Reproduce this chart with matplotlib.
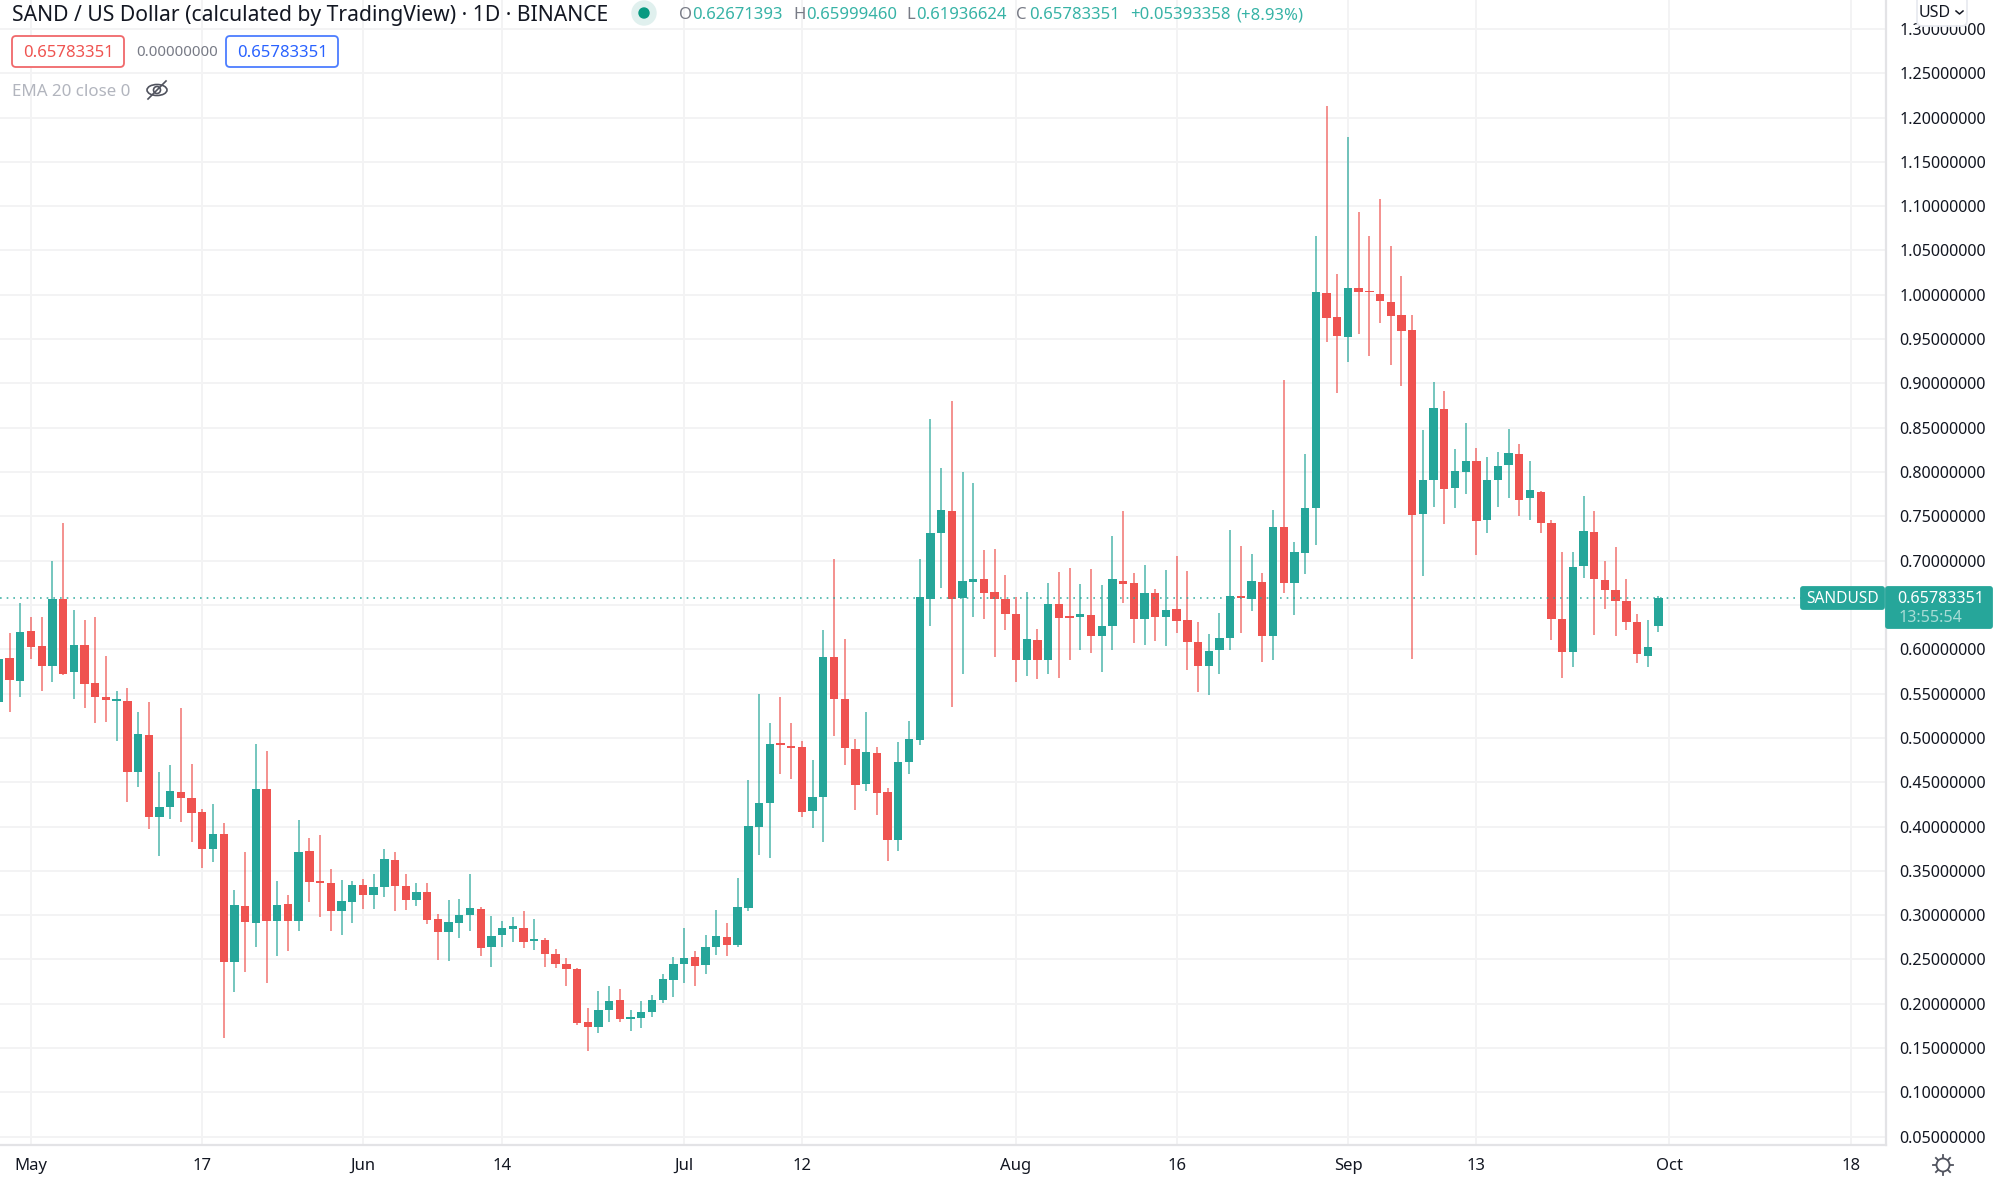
import matplotlib
matplotlib.use('Agg')
import matplotlib.pyplot as plt
import matplotlib.dates as mdates
from matplotlib.lines import Line2D
from matplotlib.patches import Circle, Ellipse, FancyBboxPatch
from matplotlib.transforms import IdentityTransform
import numpy as np
import pandas as pd

dates = pd.date_range('2021-04-28', '2021-09-30', freq='D')

opens = [.5405, .590, .564, .621, .604, .5808, .6565, .574, .6054, .5615, .5458, .5421, .5421, .4612, .5031, .4109,
         .4218, .4395, .4326, .4161, .3751, .392, .247, .3102, .2913, .4427, .2929, .3127, .2933, .3722, .3388, .3364,
         .3049, .3154, .3338, .3233, .3319, .3628, .333, .3169, .3259, .2955, .2815, .291, .3003, .3075, .2639, .2774,
         .2842, .2857, .2706, .2718, .256, .2451, .2391, .1793, .1736, .1928, .2041, .183, .1838, .1909, .2045, .2266,
         .2454, .253, .2443, .2646, .2755, .2668, .3086, .3999, .4263, .494, .4909, .4898, .4176, .4334, .5909, .5439,
         .4879, .4477, .4834, .4394, .3849, .4729, .4973, .6567, .7312, .756, .6575, .6755, .6797, .6642, .6567, .6398,
         .5879, .6105, .5883, .6507, .6368, .6360, .6391, .6146, .6263, .6770, .6748, .6345, .6635, .6364, .6451, .6327,
         .6086, .5815, .5988, .6124, .6601, .6571, .6763, .6147, .7375, .675, .7082, .7591, 1.0017, .9745, .9521, 1.0073,
         1.0043, 1.0008, .9922, .9776, .9599, .753, .7909, .8715, .7819, .8004, .8125, .7455, .791, .8079, .8199, .7707,
         .7771, .7425, .6342, .5966, .694, .7327, .6778, .6669, .6549, .6304, .5925, .6267]
highs = [.61, .618, .652, .637, .637, .6996, .743, .6448, .6327, .6368, .593, .553, .5562, .5293, .5401, .4612,
         .4689, .5337, .4701, .4193, .425, .404, .328, .3714, .4934, .4854, .3388, .3231, .4073, .3876, .3904, .3521,
         .3394, .3383, .341, .347, .3748, .3714, .347, .3364, .3364, .3015, .3173, .3188, .347, .3097, .2988, .2936,
         .2985, .3045, .2955, .2744, .2624, .2515, .2402, .195, .2142, .2203, .2169, .1928, .203, .2097, .2338, .2533,
         .2857, .2601, .2774, .306, .2909, .342, .4526, .5496, .5172, .5458, .5172, .4962, .4751, .6222, .7019, .612,
         .4985, .5297, .4898, .4436, .495, .5195, .7019, .8594, .8049, .8804, .8, .7879, .7116, .7131, .6842, .6594,
         .6646, .6225, .6748, .6868, .6921, .6733, .691, .6725, .7282, .756, .6860, .6955, .668, .6898, .7049, .6883,
         .6312, .6172, .6413, .7342, .7165, .7071, .6858, .7569, .9034, .7211, .8198, 1.0668, 1.2125, 1.0237, 1.178, 1.0935,
         1.0659, 1.1077, 1.0547, 1.0211, .9767, .847, .9013, .8914, .8258, .8556, .8271, .8173, .8230, .8489, .8312, .812,
         .7782, .7455, .7102, .7102, .7726, .756, .70, .7150, .6797, .6398, .6335, .65999]
lows = [.53, .529, .546, .589, .5534, .5627, .5707, .544, .534, .5168, .5176, .497, .4274, .445, .3968, .367,
        .4089, .4053, .3823, .3537, .3602, .1613, .2128, .2358, .2639, .2233, .2535, .2599, .2825, .3147, .2982, .2825,
        .2778, .291, .3067, .3067, .3203, .3045, .306, .3101, .2906, .2496, .2485, .2748, .2819, .2541, .2417, .2639,
        .2695, .2627, .2605, .2417, .2409, .2199, .1766, .1466, .1672, .1793, .1793, .1691, .1725, .1849, .2011, .2078,
        .2233, .2203, .2338, .2552, .2541, .2638, .3048, .3684, .365, .4593, .4533, .4112, .3988, .3823, .5026, .4691,
        .4191, .4398, .4135, .3616, .3729, .4597, .4917, .6259, .6691, .5353, .5721, .6368, .6338, .5909, .6221, .5627,
        .5699, .5661, .5721, .5672, .5879, .5988, .5958, .5748, .5996, .6522, .6067, .6048, .6094, .6037, .6184, .577,
        .5518, .5488, .5721, .5996, .6188, .6432, .5854, .5875, .6638, .6384, .6845, .7181, .9465, .8892, .9237, .956,
        .931, .9677, .9207, .897, .5888, .6823, .7608, .7409, .7590, .775, .7060, .7312, .7609, .7707, .75, .7459,
        .7316, .6101, .5673, .5801, .6801, .6165, .6455, .6154, .6222, .5846, .5801, .61936]
closes = [.589, .5655, .620, .6025, .5816, .657, .572, .6054, .5607, .5458, .5433, .5442, .4616, .5039, .4105, .4226,
          .4403, .4318, .4157, .3751, .392, .247, .3119, .2925, .4427, .2929, .3119, .2929, .3714, .3372, .3368, .305,
          .3161, .3342, .3233, .3319, .3635, .3334, .3169, .3259, .2951, .2808, .2921, .30, .3079, .2627, .277, .2857,
          .2879, .2699, .2718, .2567, .2454, .2391, .1778, .1736, .1928, .203, .183, .1849, .1902, .2041, .2278, .2451,
          .2522, .2432, .2642, .2767, .2669, .3097, .4007, .4263, .4936, .4917, .4887, .4169, .4334, .5913, .5436, .4883,
          .4473, .4845, .4375, .3849, .4725, .4985, .6586, .7312, .7571, .6567, .6767, .6797, .6631, .6567, .6394, .5883,
          .6116, .5883, .6515, .6353, .6353, .6402, .615, .6263, .6797, .674, .6345, .6631, .6364, .6439, .6323, .6082,
          .5815, .5984, .6127, .6601, .6579, .6767, .6147, .7375, .6750, .7099, .7595, 1.0034, .9733, .9539, 1.0073, 1.003,
          1.0026, .9935, .9763, .9595, .7513, .7909, .8724, .7810, .8009, .8125, .7453, .7914, .8072, .8218, .7688, .7801,
          .7425, .6342, .597, .6932, .7338, .6793, .6665, .6545, .6312, .5947, .603, .65783]

price_ticks = [round(0.05 * i, 2) for i in range(1, 27)]
time_ticks = ['2021-05-01', '2021-05-17', '2021-06-01', '2021-06-14', '2021-07-01', '2021-07-12',
              '2021-08-01', '2021-08-16', '2021-09-01', '2021-09-13', '2021-10-01', '2021-10-18']
time_labels = ['May', '17', 'Jun', '14', 'Jul', '12', 'Aug', '16', 'Sep', '13', 'Oct', '18']
last_price = 0.65783351

GREEN = '#26a69a'
RED = '#ef5350'
TEXT = '#131722'
GRID = '#f3f3f4'
BORDER = '#e3e3e6'
W, H = 1999, 1181

plt.rcParams['font.family'] = ['Noto Sans', 'DejaVu Sans']
fig = plt.figure(figsize=(W / 100, H / 100), dpi=100, facecolor='white')
ax = fig.add_axes([0, (H - 1145) / H, 1885.7 / W, 1145 / H])

x = mdates.date2num(dates)
may1 = mdates.date2num(pd.Timestamp('2021-05-01'))
ax.set_xlim(may1 - 31 / 10.707, may1 + (1885.7 - 31) / 10.707)
ax.set_ylim(0.0407, 1.3326)

o, h, l, c = map(np.array, (opens, highs, lows, closes))
colors = np.where(c >= o, GREEN, RED)
ax.vlines(x, l, h, colors=colors, linewidth=1.2, alpha=0.75, zorder=3)
ax.bar(x, np.maximum(np.abs(c - o), 0.0022), bottom=np.minimum(o, c), width=0.78, color=colors, zorder=4)
ax.axhline(last_price, color=GREEN, linewidth=1.2, linestyle=(0, (1, 3)), alpha=0.85, zorder=5)

ax.set_yticks(price_ticks)
# the 0.65 label sits under the last price tag, as in the platform
ax.set_yticklabels(['' if p == 0.65 else '%.8f' % p for p in price_ticks])
ax.yaxis.tick_right()
ax.set_xticks(mdates.date2num(pd.to_datetime(time_ticks)))
ax.set_xticklabels(time_labels)
ax.tick_params(axis='y', length=0, pad=10, labelsize=11.6, labelcolor=TEXT)
ax.tick_params(axis='x', length=0, pad=9, labelsize=12, labelcolor=TEXT)
for lab, txt in zip(ax.get_xticklabels(), time_labels):
    if not txt.isdigit():
        lab.set_fontweight('semibold')
ax.grid(True, color=GRID, linewidth=1.4, zorder=0)
ax.set_axisbelow(True)
for side in ['top', 'left']:
    ax.spines[side].set_visible(False)
for side in ['right', 'bottom']:
    ax.spines[side].set_color(BORDER)
    ax.spines[side].set_linewidth(1.6)


# everything around the chart is placed in reference pixels
def label(px, py, s, color=TEXT, size=12, ha='left', **kw):
    fig.text(px / W, 1 - py / H, s, color=color, fontsize=size, ha=ha, va='center', zorder=20, **kw)


def box(x0, y0, x1, y1, face, edge, r=3, **kw):
    fig.add_artist(FancyBboxPatch((x0, H - y1), x1 - x0, y1 - y0, boxstyle='round,pad=0,rounding_size=%d' % r,
                                  facecolor=face, edgecolor=edge, linewidth=1.3,
                                  transform=IdentityTransform(), zorder=15, **kw))


label(12, 15, 'SAND / US Dollar (calculated by TradingView) · 1D · BINANCE', size=15.2)
fig.add_artist(Circle((644, H - 13), 12, color='#e0f0ee', transform=IdentityTransform(), zorder=15))
fig.add_artist(Circle((644, H - 13), 5, color='#089981', transform=IdentityTransform(), zorder=16))

OHLC = '#37b3a6'
for px, s, col in [(679, 'O', '#787b86'), (692, '0.62671393', OHLC), (793, 'H', '#787b86'), (806, '0.65999460', OHLC),
                   (906, 'L', '#787b86'), (916, '0.61936624', OHLC), (1016, 'C', '#787b86'), (1029, '0.65783351', OHLC),
                   (1130, '+0.05393358', OHLC), (1236, '(+8.93%)', OHLC)]:
    label(px, 15, s, color=col, size=12)

box(12, 36, 124, 67, 'white', '#f0686a', r=4)
label(68, 53, '0.65783351', color=RED, size=12, ha='center')
label(136, 53, '0.00000000', color='#787b86', size=10.8)
box(226, 36, 338, 67, 'white', '#4c7dff', r=4)
label(282, 53, '0.65783351', color='#2962ff', size=12, ha='center')
label(12, 92, 'EMA 20 close 0', color='#b2b5be', size=12.2)

# crossed out eye
fig.add_artist(Ellipse((157, H - 90), 20, 11, fill=False, edgecolor='#50535e', linewidth=1.2,
                       transform=IdentityTransform(), zorder=16))
fig.add_artist(Circle((157, H - 90), 3.5, fill=False, edgecolor='#50535e', linewidth=1.2,
                      transform=IdentityTransform(), zorder=16))
fig.add_artist(Line2D([148, 166], [H - 99, H - 81], color='#50535e', linewidth=1.2,
                      transform=IdentityTransform(), zorder=17))

# currency button covering the 1.30 label
box(1917, -4, 1967, 26, 'white', '#e8eaf0', r=5)
label(1935, 13, 'USD', size=11.5, ha='center')
fig.add_artist(Line2D([1956, 1959.5, 1963], [H - 11, H - 14, H - 11], color=TEXT, linewidth=1.1,
                      transform=IdentityTransform(), zorder=17))

# last price tags
box(1801, 587, 1884, 609, GREEN, GREEN, r=2)
label(1843, 599, 'SANDUSD', color='white', size=11.2, ha='center')
box(1886, 587, 1992, 628, GREEN, GREEN, r=2)
label(1941, 599, '0.65783351', color='white', size=11.6, ha='center')
label(1930, 618, '13:55:54', color='#a8dcd6', size=11.6, ha='center')

# settings icon
sun = (1943, H - 1165)
fig.add_artist(Circle(sun, 6.5, fill=False, edgecolor='#50535e', linewidth=1.3, transform=IdentityTransform(), zorder=16))
for a in np.radians(np.arange(0, 360, 45)):
    fig.add_artist(Line2D([sun[0] + 7 * np.cos(a), sun[0] + 10 * np.cos(a)],
                          [sun[1] + 7 * np.sin(a), sun[1] + 10 * np.sin(a)],
                          color='#50535e', linewidth=1.3, transform=IdentityTransform(), zorder=16))

fig.savefig('out.png', dpi=100)
